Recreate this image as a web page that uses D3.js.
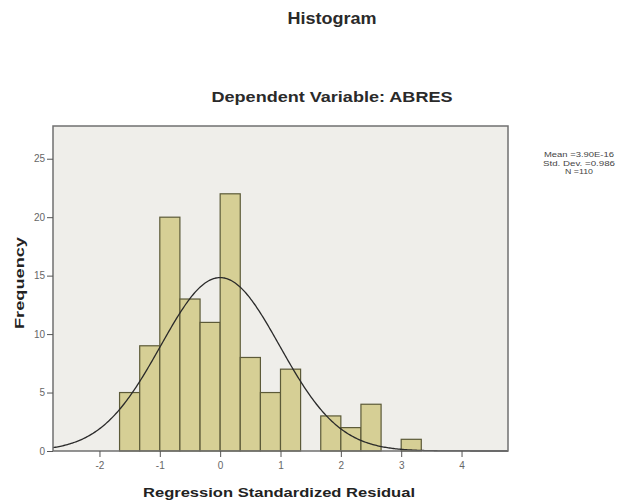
<!DOCTYPE html>
<html>
<head>
<meta charset="utf-8">
<script src="https://cdn.jsdelivr.net/npm/d3@7"></script>
<style>
  body { margin: 0; background: #fff; }
  text { font-family: "Liberation Sans", Arial, sans-serif; }
</style>
</head>
<body>
<div id="chart"></div>
<script>
// histogram bins (left edges, width 1/3) and counts
const binEdges = [-1.667, -1.333, -1, -0.667, -0.333, 0, 0.333, 0.667, 1, 1.333, 1.667, 2, 2.333, 2.667, 3, 3.333];
const counts = [5, 9, 20, 13, 11, 22, 8, 5, 7, 0, 3, 2, 4, 0, 1];
const xTicks = [-2, -1, 0, 1, 2, 3, 4];
const yTicks = [0, 5, 10, 15, 20, 25];
const legendLines = ["Mean =3.90E-16", "Std. Dev. =0.986", "N =110"];
const mean = 3.90e-16, sd = 0.986, n = 110;

const width = 633, height = 502;
const svg = d3.select("#chart").append("svg")
  .attr("width", width)
  .attr("height", height);

const x = d3.scaleLinear().domain([-2.77, 4.77]).range([53, 508]);
const y = d3.scaleLinear().domain([0, 27.8]).range([451, 126]);

// plot area
svg.append("rect")
  .attr("x", 53).attr("y", 126)
  .attr("width", 455).attr("height", 325)
  .attr("fill", "#efeeea");

const bins = counts.map((c, i) => ({ x0: binEdges[i], x1: binEdges[i + 1], c }));

// bars
svg.append("g").selectAll("rect")
  .data(bins.filter(d => d.c > 0))
  .enter()
  .append("rect")
  .attr("x", d => x(d.x0))
  .attr("y", d => y(d.c))
  .attr("width", d => x(d.x1) - x(d.x0))
  .attr("height", d => y(0) - y(d.c))
  .attr("fill", "#d6cf95")
  .attr("stroke", "#5c5a38")
  .attr("stroke-width", 1.2);

// normal curve
const binW = 1 / 3;
const pts = d3.range(-2.77, 4.771, 0.02).map(v => [v,
  n * binW / (sd * Math.sqrt(2 * Math.PI)) * Math.exp(-0.5 * ((v - mean) / sd) ** 2)]);
svg.append("path")
  .datum(pts)
  .attr("fill", "none")
  .attr("stroke", "#2a2a2a")
  .attr("stroke-width", 1.3)
  .attr("d", d3.line().x(d => x(d[0])).y(d => y(d[1])));

// frame
svg.append("rect")
  .attr("x", 53).attr("y", 126)
  .attr("width", 455).attr("height", 325)
  .attr("fill", "none")
  .attr("stroke", "#707070")
  .attr("stroke-width", 1.5);

// axes
const yAxis = svg.append("g")
  .attr("transform", "translate(53,0)")
  .call(d3.axisLeft(y).tickValues(yTicks).tickFormat(d => String(d)).tickSize(6).tickPadding(2));
const xAxis = svg.append("g")
  .attr("transform", "translate(0,451)")
  .call(d3.axisBottom(x).tickValues(xTicks).tickFormat(d => String(d)).tickSize(6).tickPadding(5));
[yAxis, xAxis].forEach(a => {
  a.select(".domain").remove();
  a.selectAll("line").attr("stroke", "#555");
  a.selectAll("text")
    .attr("fill", "#666")
    .style("font-size", "10px")
    .style("font-family", "'Liberation Sans', Arial, sans-serif");
});

// titles
svg.append("text")
  .attr("x", 332).attr("y", 24)
  .attr("text-anchor", "middle")
  .attr("font-size", 16).attr("font-weight", "bold")
  .attr("fill", "#2a2a2a")
  .attr("textLength", 89).attr("lengthAdjust", "spacingAndGlyphs")
  .text("Histogram");

svg.append("text")
  .attr("x", 332).attr("y", 102)
  .attr("text-anchor", "middle")
  .attr("font-size", 15).attr("font-weight", "bold")
  .attr("fill", "#2a2a2a")
  .attr("textLength", 241).attr("lengthAdjust", "spacingAndGlyphs")
  .text("Dependent Variable: ABRES");

svg.append("text")
  .attr("x", 279).attr("y", 497)
  .attr("text-anchor", "middle")
  .attr("font-size", 13).attr("font-weight", "bold")
  .attr("fill", "#222")
  .attr("textLength", 272).attr("lengthAdjust", "spacingAndGlyphs")
  .text("Regression Standardized Residual");

svg.append("text")
  .attr("transform", "translate(24,283) rotate(-90)")
  .attr("text-anchor", "middle")
  .attr("font-size", 13).attr("font-weight", "bold")
  .attr("fill", "#222")
  .attr("textLength", 92).attr("lengthAdjust", "spacingAndGlyphs")
  .text("Frequency");

// legend
svg.append("g").selectAll("text")
  .data(legendLines)
  .enter()
  .append("text")
  .attr("x", 579)
  .attr("y", (d, i) => 157 + i * 8.5)
  .attr("text-anchor", "middle")
  .attr("font-size", 7.8)
  .attr("fill", "#444")
  .attr("textLength", (d, i) => [70, 72, 28][i])
  .attr("lengthAdjust", "spacingAndGlyphs")
  .text(d => d);
</script>
</body>
</html>
